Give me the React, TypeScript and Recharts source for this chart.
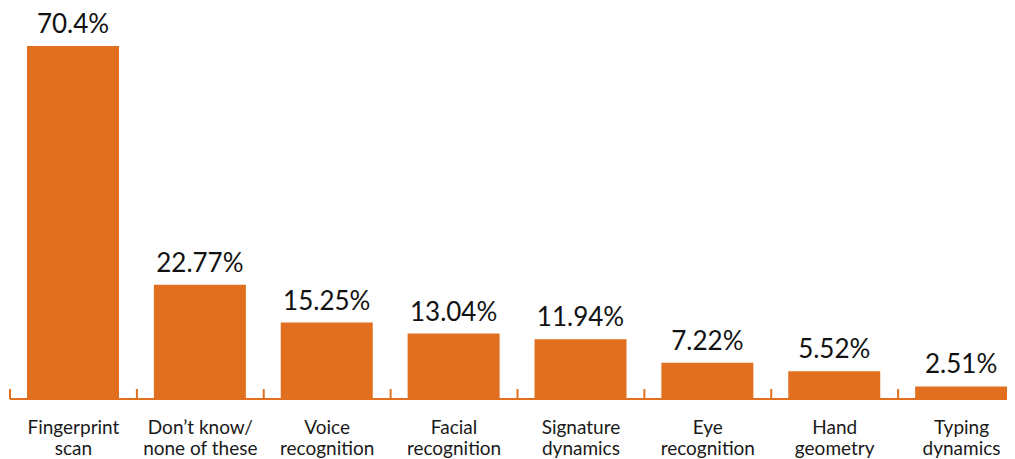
import React from "react";
import { BarChart, Bar, XAxis, YAxis, LabelList } from "recharts";

const categories = [
  "Fingerprint\nscan",
  "Don’t know/\nnone of these",
  "Voice\nrecognition",
  "Facial\nrecognition",
  "Signature\ndynamics",
  "Eye\nrecognition",
  "Hand\ngeometry",
  "Typing\ndynamics",
];
const values = [70.4, 22.77, 15.25, 13.04, 11.94, 7.22, 5.52, 2.51];
const valueLabels = ["70.4%", "22.77%", "15.25%", "13.04%", "11.94%", "7.22%", "5.52%", "2.51%"];

const data = categories.map((c, i) => ({ name: c, value: values[i], label: valueLabels[i] }));

const W = 1017;
const H = 451;
const M = { top: 38, right: 0, left: 2, bottom: 0 };
const XH = 60;
const PLOT_BOTTOM = H - M.bottom - XH;
const BW = (W - M.left - M.right) / categories.length;
const ORANGE = "#E0701F";
const FONT = "Lato, 'Open Sans', sans-serif";

const Tick = (props: any) => {
  const { x, payload, index } = props;
  const lines = String(payload.value).split("\n");
  const left = x - BW / 2;
  const right = x + BW / 2;
  return (
    <g>
      <line x1={left} x2={left} y1={PLOT_BOTTOM - 10} y2={PLOT_BOTTOM} stroke={ORANGE} strokeWidth={2} />
      {index === categories.length - 1 && (
        <line x1={right} x2={right} y1={PLOT_BOTTOM - 10} y2={PLOT_BOTTOM} stroke={ORANGE} strokeWidth={2} />
      )}
      {lines.map((l, i) => (
        <text
          key={i}
          x={x}
          y={PLOT_BOTTOM + 35 + i * 21}
          textAnchor="middle"
          fontFamily={FONT}
          fontSize={19}
          fill="#1a1a1a"
        >
          {l}
        </text>
      ))}
    </g>
  );
};

const ValueLabel = (props: any) => {
  const { x, y, width, value } = props;
  return (
    <text
      x={x + width / 2}
      y={y - 13}
      textAnchor="middle"
      fontFamily={FONT}
      fontSize={26}
      fill="#111"
    >
      {value}
    </text>
  );
};

export default function App() {
  return (
    <div style={{ width: 1007, height: H, overflow: "hidden" }}>
      <BarChart width={W} height={H} data={data} margin={M} barCategoryGap={0}>
        <XAxis
          dataKey="name"
          interval={0}
          height={XH}
          tickLine={false}
          axisLine={{ stroke: ORANGE, strokeWidth: 2 }}
          tick={<Tick />}
        />
        <YAxis hide domain={[0, 70.4]} />
        <Bar dataKey="value" fill={ORANGE} barSize={92} isAnimationActive={false}>
          <LabelList dataKey="label" content={<ValueLabel />} />
        </Bar>
      </BarChart>
    </div>
  );
}
